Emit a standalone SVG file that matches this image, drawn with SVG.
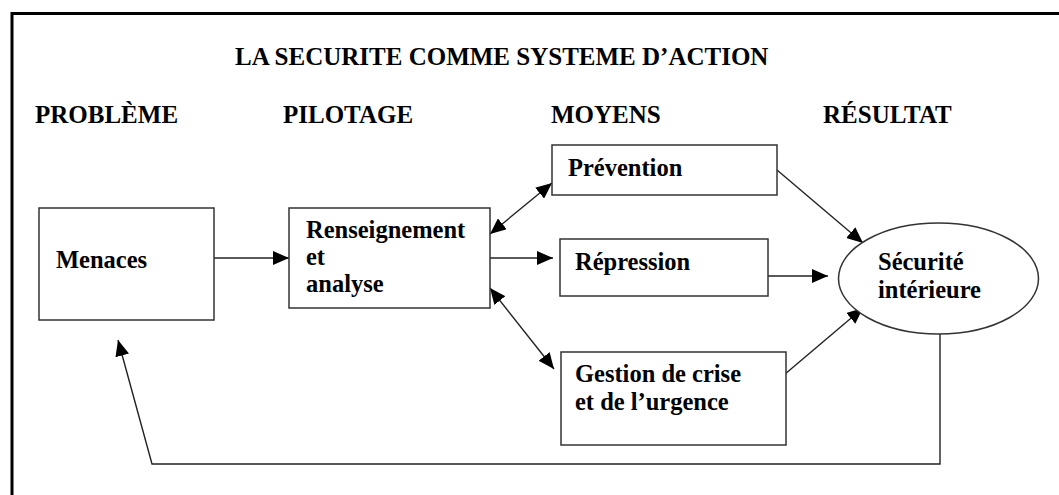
<svg xmlns="http://www.w3.org/2000/svg" width="1059" height="495" viewBox="0 0 1059 495">
<style>
text{font-family:"Liberation Serif","Times New Roman",serif;font-weight:bold;font-size:24.5px;fill:#000}
.h{font-size:25px}
.box{fill:#fff;stroke:#333;stroke-width:1.5}
.c{fill:none;stroke:#222;stroke-width:1.4}
</style>
<defs>
<marker id="ah" markerUnits="userSpaceOnUse" markerWidth="16" markerHeight="14" refX="16" refY="7" orient="auto-start-reverse" viewBox="0 0 16 14">
<path d="M0,0 L16,7 L0,14 z" fill="#000"/>
</marker>
</defs>
<rect x="0" y="0" width="1059" height="495" fill="#fff"/>
<path d="M12,495 V13.5 H1059" fill="none" stroke="#000" stroke-width="3"/>
<g id="headers">
<text class="h" x="235" y="65">LA SECURITE COMME SYSTEME D’ACTION</text>
<text class="h" x="35" y="123">PROBLÈME</text>
<text class="h" x="283" y="123">PILOTAGE</text>
<text class="h" x="551" y="123">MOYENS</text>
<text class="h" x="823" y="123">RÉSULTAT</text>
</g>
<g id="connectors">
<line class="c" x1="214" y1="258" x2="289" y2="258" marker-end="url(#ah)"/>
<line class="c" x1="490" y1="234" x2="552" y2="183" marker-start="url(#ah)" marker-end="url(#ah)"/>
<line class="c" x1="490" y1="258" x2="553" y2="258" marker-end="url(#ah)"/>
<line class="c" x1="490" y1="288" x2="554" y2="369" marker-start="url(#ah)" marker-end="url(#ah)"/>
<line class="c" x1="777" y1="170" x2="863" y2="243" marker-end="url(#ah)"/>
<line class="c" x1="765" y1="276" x2="828" y2="276" marker-end="url(#ah)"/>
<line class="c" x1="778" y1="380" x2="863" y2="308" marker-end="url(#ah)"/>
<polyline class="c" points="940,334 940,464 152,464 118,340" marker-end="url(#ah)"/>
</g>
<g id="menaces">
<rect class="box" x="39" y="208" width="175" height="112"/>
<text x="56" y="268">Menaces</text>
</g>
<g id="renseignement">
<rect class="box" x="289" y="208" width="201" height="100"/>
<text x="306" y="238">Renseignement</text>
<text x="306" y="265">et</text>
<text x="306" y="292">analyse</text>
</g>
<g id="prevention">
<rect class="box" x="552" y="145" width="225" height="50"/>
<text x="568" y="176">Prévention</text>
</g>
<g id="repression">
<rect class="box" x="560" y="239" width="208" height="57"/>
<text x="575" y="270">Répression</text>
</g>
<g id="gestion">
<rect class="box" x="561" y="352" width="225" height="93"/>
<text x="575" y="382">Gestion de crise</text>
<text x="575" y="410">et de l’urgence</text>
</g>
<g id="securite">
<ellipse class="box" cx="938.5" cy="278.5" rx="100" ry="55.5"/>
<text x="878" y="270">Sécurité</text>
<text x="878" y="298">intérieure</text>
</g>
</svg>
